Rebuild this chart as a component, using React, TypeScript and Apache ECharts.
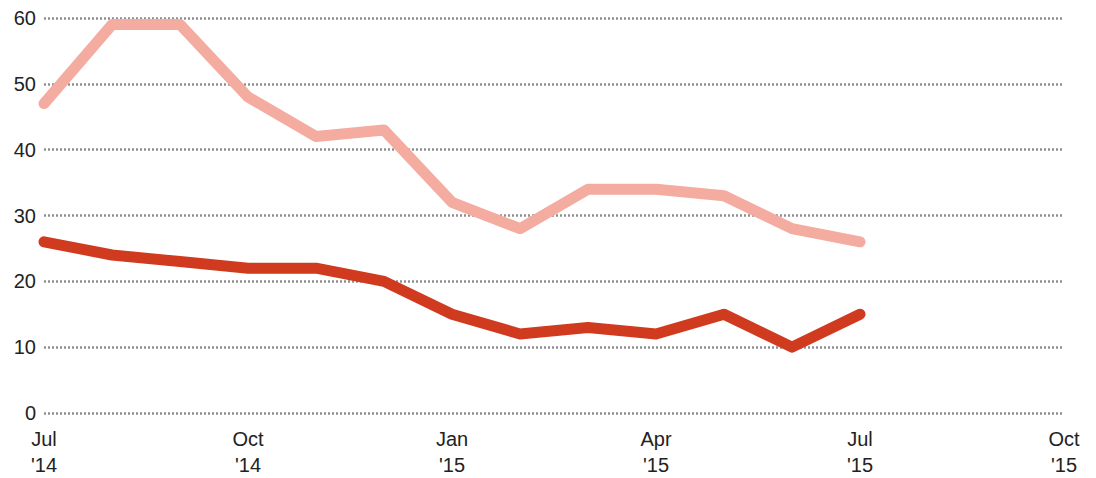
import { useEffect, useRef } from 'react';
import * as echarts from 'echarts';

const months = [
  "Jul\n'14", 'Aug', 'Sep', "Oct\n'14", 'Nov', 'Dec',
  "Jan\n'15", 'Feb', 'Mar', "Apr\n'15", 'May', 'Jun',
  "Jul\n'15", 'Aug', 'Sep', "Oct\n'15",
];
const lightValues = [47, 59, 59, 48, 42, 43, 32, 28, 34, 34, 33, 28, 26];
const darkValues = [26, 24, 23, 22, 22, 20, 15, 12, 13, 12, 15, 10, 15];
const yTicks = { min: 0, max: 60, interval: 10 };

export default function App() {
  const chartRef = useRef<HTMLDivElement>(null);

  useEffect(() => {
    if (!chartRef.current) return;
    const chart = echarts.init(chartRef.current, undefined, { renderer: 'svg' });

    const textStyle = {
      fontFamily: 'Liberation Sans, Arial, sans-serif',
      fontSize: 20,
      color: '#222',
    };

    chart.setOption({
      animation: false,
      grid: { left: 36, right: 32, top: 10, bottom: 55, containLabel: false },
      xAxis: {
        type: 'category',
        data: months,
        boundaryGap: false,
        axisLine: { show: false },
        axisTick: { show: false },
        splitLine: { show: false },
        axisLabel: {
          ...textStyle,
          interval: 2,
          margin: 13,
          lineHeight: 26,
          formatter: (v: string) => v,
        },
      },
      yAxis: {
        type: 'value',
        ...yTicks,
        axisLine: { show: false },
        axisTick: { show: false },
        axisLabel: { ...textStyle, margin: 8 },
        splitLine: {
          lineStyle: { color: '#8f8f8f', type: [2, 2], width: 2.5 },
        },
      },
      series: [
        {
          name: 'light',
          type: 'line',
          data: lightValues,
          showSymbol: false,
          lineStyle: { color: '#F4ABA0', width: 11, cap: 'round', join: 'round' },
          itemStyle: { color: '#F4ABA0' },
        },
        {
          name: 'dark',
          type: 'line',
          data: darkValues,
          showSymbol: false,
          lineStyle: { color: '#D03B20', width: 11, cap: 'round', join: 'round' },
          itemStyle: { color: '#D03B20' },
        },
      ],
    });

    const onResize = () => chart.resize();
    window.addEventListener('resize', onResize);
    return () => {
      window.removeEventListener('resize', onResize);
      chart.dispose();
    };
  }, []);

  return <div ref={chartRef} style={{ width: 1088, height: 470 }} />;
}
